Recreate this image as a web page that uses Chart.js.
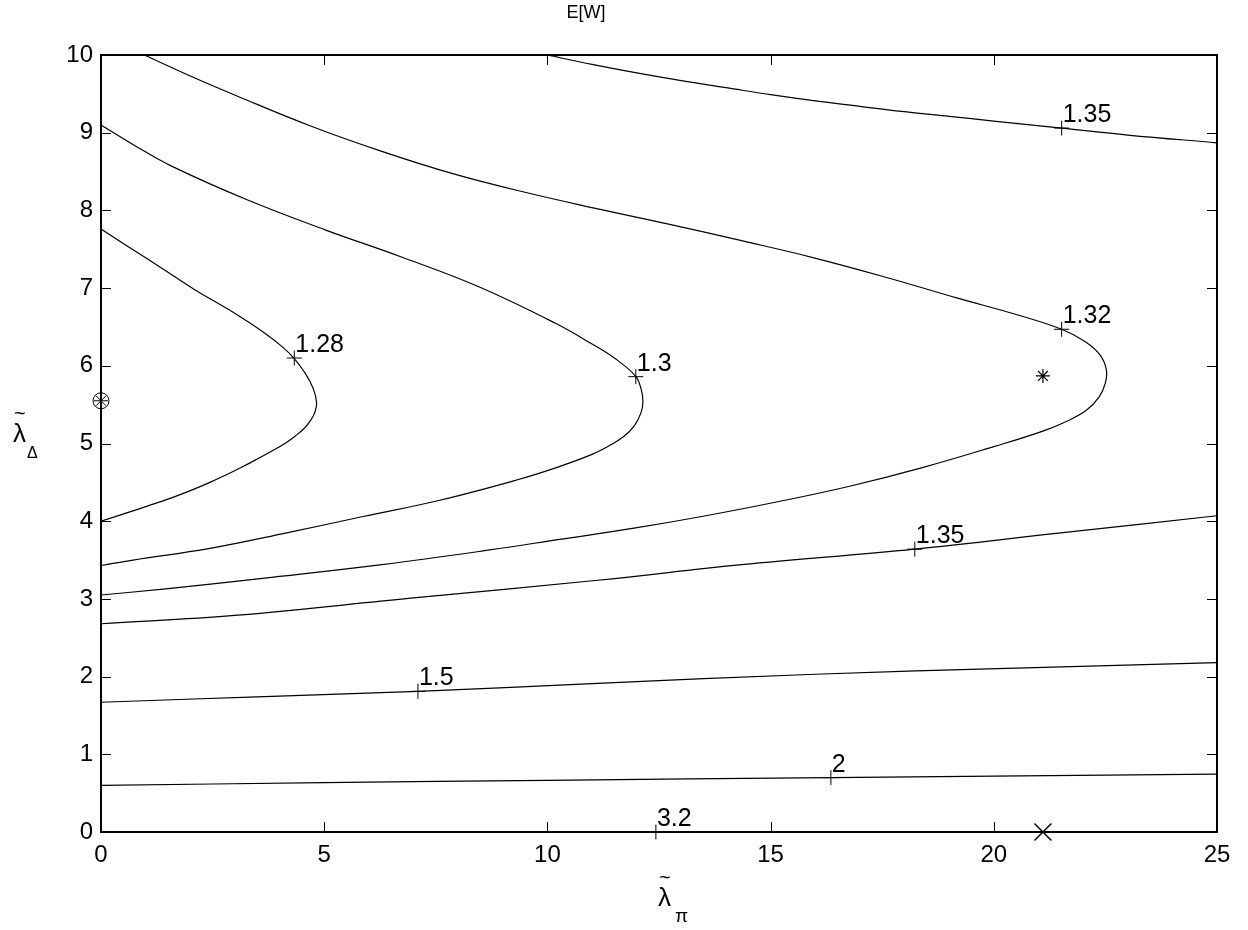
<!DOCTYPE html>
<html>
<head>
<meta charset="utf-8">
<script src="https://cdn.jsdelivr.net/npm/chart.js@4/dist/chart.umd.min.js"></script>
<style>
html,body{margin:0;padding:0;background:#fff;}
#wrap{width:1248px;height:930px;position:relative;}
</style>
</head>
<body>
<div id="wrap"><canvas id="c" width="1248" height="930"></canvas></div>
<script>
// ---------- data ----------
const titleText = 'E[W]';
const xTickValues = [0, 5, 10, 15, 20, 25];
const yTickValues = [0, 1, 2, 3, 4, 5, 6, 7, 8, 9, 10];

// contour E[W] = 1.28
const c128x = [0, 0.62, 1.38, 2.1, 2.87, 3.67, 4.05, 4.32, 4.58, 4.76, 4.83, 4.79, 4.70, 4.56, 4.36, 4.12, 3.82, 3.50, 3.17, 2.82, 2.44, 2.03, 1.58, 1.07, 0.54, 0];
const c128y = [7.76, 7.53, 7.25, 6.98, 6.72, 6.42, 6.25, 6.10, 5.90, 5.70, 5.52, 5.40, 5.30, 5.20, 5.10, 5.00, 4.90, 4.80, 4.70, 4.60, 4.50, 4.40, 4.30, 4.20, 4.10, 4.0];
// contour 1.3
const c130x = [0, 0.8, 1.58, 3.30, 5.02, 6.73, 8.45, 10.17, 11.0, 11.5, 11.97, 12.10, 12.14, 12.10, 11.95, 11.71, 11.38, 11.0, 10.2, 9.31, 7.59, 5.87, 4.16, 2.44, 0.72, 0];
const c130y = [9.10, 8.82, 8.57, 8.13, 7.75, 7.40, 7.02, 6.55, 6.28, 6.10, 5.87, 5.70, 5.54, 5.40, 5.23, 5.09, 4.97, 4.86, 4.69, 4.53, 4.27, 4.06, 3.85, 3.65, 3.50, 3.43];
// contour 1.32
const c132x = [0.97, 2.0, 3.06, 4.68, 6.29, 7.90, 9.52, 11.13, 12.74, 14.35, 15.97, 17.58, 19.19, 20.5, 21.52, 22.05, 22.38, 22.52, 22.50, 22.36, 22.08, 21.65, 21.1, 20.0, 18.40, 16.77, 15.16, 13.55, 11.94, 10.32, 8.71, 6.29, 3.87, 1.45, 0];
const c132y = [10.0, 9.73, 9.47, 9.09, 8.76, 8.47, 8.23, 8.02, 7.82, 7.61, 7.39, 7.14, 6.87, 6.66, 6.47, 6.31, 6.14, 5.95, 5.78, 5.60, 5.43, 5.29, 5.16, 4.96, 4.69, 4.45, 4.25, 4.07, 3.91, 3.77, 3.63, 3.44, 3.28, 3.13, 3.05];
// contour 1.35 (upper branch)
const c135ax = [10.0, 11, 12, 13, 14, 15, 16, 17, 18, 19, 20, 21.52, 23, 25];
const c135ay = [10.0, 9.88, 9.77, 9.67, 9.58, 9.49, 9.41, 9.34, 9.27, 9.21, 9.15, 9.06, 8.97, 8.87];
// contour 1.35 (lower branch)
const c135bx = [0, 3.06, 6.94, 11.13, 14.35, 18.23, 21.5, 25];
const c135by = [2.68, 2.79, 3.01, 3.24, 3.44, 3.64, 3.85, 4.07];
// contour 1.5
const c150x = [0, 3.5, 7.1, 11, 16, 20.5, 25];
const c150y = [1.67, 1.74, 1.81, 1.91, 2.03, 2.11, 2.18];
// contour 2
const c200x = [0, 5, 10, 16.35, 20, 25];
const c200y = [0.60, 0.635, 0.665, 0.70, 0.72, 0.745];
// contour 3.2
const c320x = [0, 25];
const c320y = [0, 0];

// contour labels (marker "+" and text)
const labelX = [4.33, 11.98, 21.52, 21.52, 18.23, 7.10, 16.35, 12.43];
const labelY = [6.10, 5.86, 6.47, 9.06, 3.64, 1.81, 0.70, 0];
const labelText = ['1.28', '1.3', '1.32', '1.35', '1.35', '1.5', '2', '3.2'];

// special markers
const circStarX = [0];   const circStarY = [5.55];
const starX = [21.1];    const starY = [5.87];
const crossX = [21.1];   const crossY = [0];

// ---------- build ----------
const pts = (xs, ys) => xs.map((v, i) => ({x: v, y: ys[i]}));
const FONT = '"Liberation Sans", Arial, Helvetica, sans-serif';
const contour = (xs, ys) => ({
  data: pts(xs, ys), showLine: true, borderColor: '#000', borderWidth: 1.2,
  pointRadius: 0, tension: 0.4, fill: false
});
const marker = (xs, ys, style, r, w) => ({
  data: pts(xs, ys), showLine: false, pointStyle: style, pointRadius: r,
  borderColor: '#000', backgroundColor: 'rgba(0,0,0,0)', pointBorderWidth: w,
  borderWidth: w, clip: false
});

const overlay = {
  id: 'overlay',
  afterDatasetsDraw(chart) {
    const {ctx, chartArea: a, scales: {x, y}} = chart;
    ctx.save();
    ctx.strokeStyle = '#000';
    ctx.fillStyle = '#000';
    // inward ticks on all four sides
    ctx.lineWidth = 1;
    ctx.beginPath();
    xTickValues.forEach(v => {
      const px = Math.round(x.getPixelForValue(v)) + 0.5;
      ctx.moveTo(px, a.bottom); ctx.lineTo(px, a.bottom - 10);
      ctx.moveTo(px, a.top); ctx.lineTo(px, a.top + 10);
    });
    yTickValues.forEach(v => {
      const py = Math.round(y.getPixelForValue(v)) + 0.5;
      ctx.moveTo(a.left, py); ctx.lineTo(a.left + 10, py);
      ctx.moveTo(a.right, py); ctx.lineTo(a.right - 10, py);
    });
    ctx.stroke();
    // axes box
    ctx.lineWidth = 2;
    ctx.strokeRect(a.left, a.top, a.right - a.left, a.bottom - a.top);
    // contour label texts
    ctx.font = '25px ' + FONT;
    ctx.textAlign = 'left';
    ctx.textBaseline = 'alphabetic';
    labelText.forEach((t, i) => {
      ctx.fillText(t, x.getPixelForValue(labelX[i]) + 1, y.getPixelForValue(labelY[i]) - 6);
    });
    // title
    ctx.font = '18px ' + FONT;
    ctx.textAlign = 'center';
    ctx.textBaseline = 'middle';
    ctx.fillText(titleText, 586, 13);
    // x axis label: lambda with tilde, subscript pi
    ctx.textAlign = 'left';
    ctx.textBaseline = 'alphabetic';
    ctx.font = '26px ' + FONT;
    ctx.fillText('\u03BB', 658, 906);
    ctx.font = '20px ' + FONT;
    ctx.fillText('~', 659, 884);
    ctx.font = '19px ' + FONT;
    ctx.fillText('\u03C0', 675, 922);
    // y axis label: lambda with tilde, subscript Delta
    ctx.font = '26px ' + FONT;
    ctx.fillText('\u03BB', 13, 442);
    ctx.font = '20px ' + FONT;
    ctx.fillText('~', 14, 420);
    ctx.font = '16px ' + FONT;
    ctx.fillText('\u0394', 27, 458);
    ctx.restore();
  }
};

new Chart(document.getElementById('c'), {
  type: 'scatter',
  data: {
    datasets: [
      contour(c128x, c128y),
      contour(c130x, c130y),
      contour(c132x, c132y),
      contour(c135ax, c135ay),
      contour(c135bx, c135by),
      contour(c150x, c150y),
      contour(c200x, c200y),
      Object.assign(contour(c320x, c320y), {borderWidth: 1.5, tension: 0}),
      marker(labelX, labelY, 'cross', 7.5, 1),
      marker(circStarX, circStarY, 'circle', 8, 1),
      marker(circStarX, circStarY, 'star', 7, 1),
      marker(starX, starY, 'star', 7, 1.2),
      marker(crossX, crossY, 'crossRot', 12, 1.5)
    ]
  },
  options: {
    responsive: false,
    animation: false,
    devicePixelRatio: 1,
    layout: {padding: {top: 55, right: 31, left: 0, bottom: 0}},
    plugins: {legend: {display: false}, tooltip: {enabled: false}, title: {display: false}},
    scales: {
      x: {
        type: 'linear', min: 0, max: 25,
        afterBuildTicks: s => { s.ticks = xTickValues.map(v => ({value: v})); },
        afterFit: s => { s.height = 98; },
        grid: {display: false, drawTicks: false},
        border: {display: false},
        ticks: {color: '#000', font: {family: FONT, size: 24}, padding: 9, maxRotation: 0}
      },
      y: {
        type: 'linear', min: 0, max: 10,
        afterBuildTicks: s => { s.ticks = yTickValues.map(v => ({value: v})); },
        afterFit: s => { s.width = 101; },
        grid: {display: false, drawTicks: false},
        border: {display: false},
        ticks: {color: '#000', font: {family: FONT, size: 24}, padding: 8}
      }
    }
  },
  plugins: [overlay]
});
</script>
</body>
</html>
